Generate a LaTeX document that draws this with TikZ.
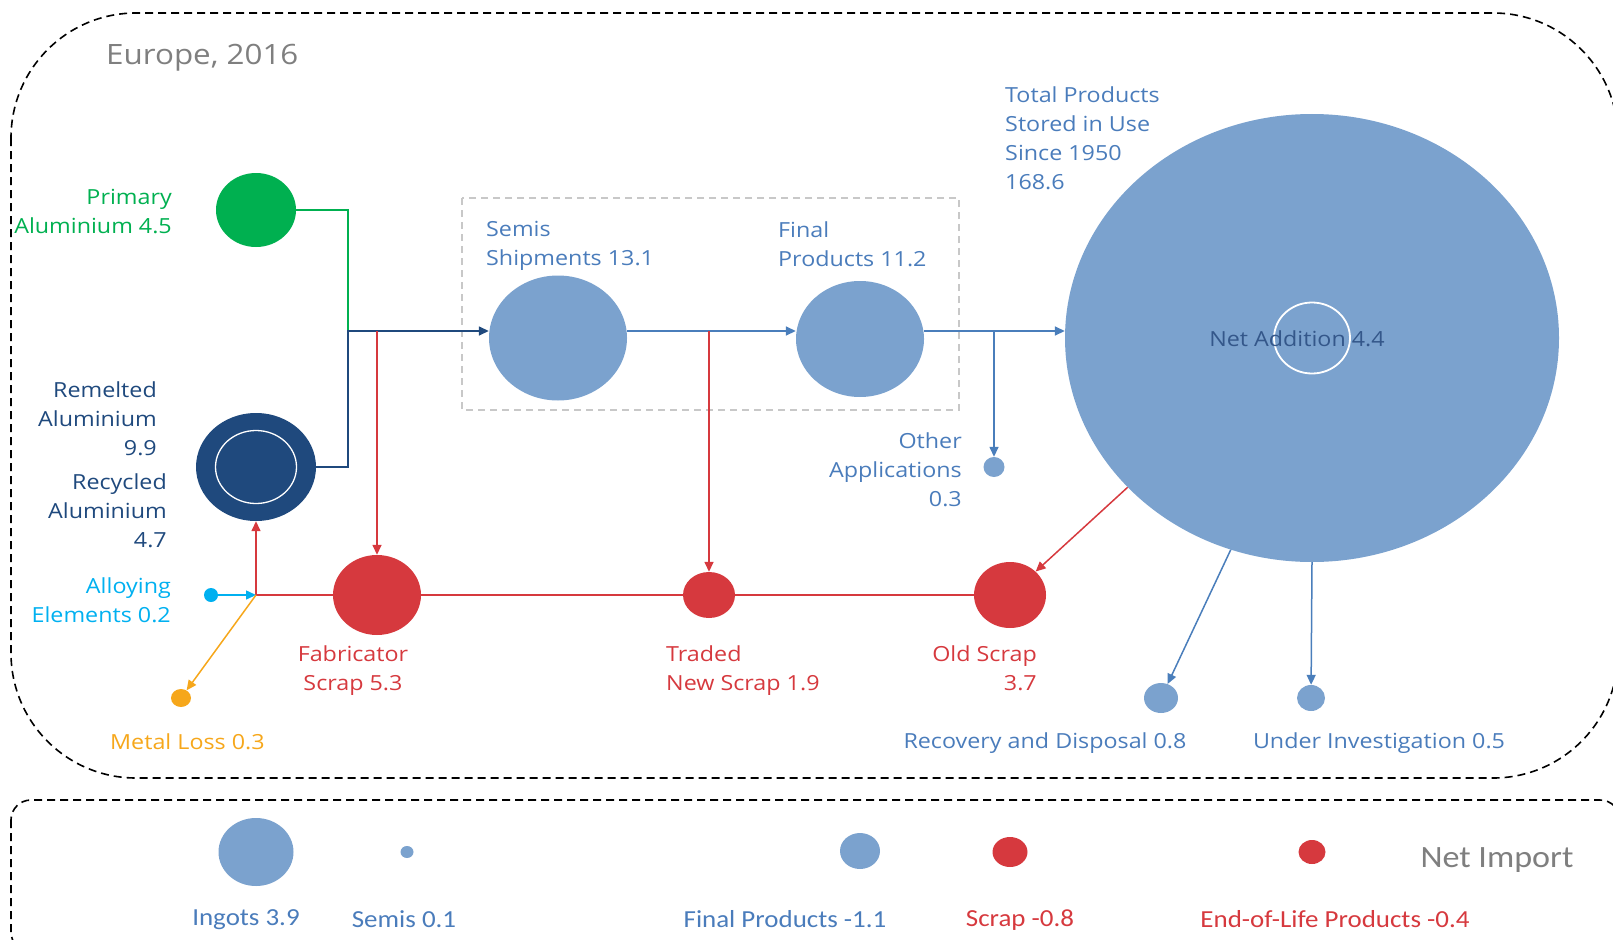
\documentclass[tikz,border=0pt]{standalone}
\usepackage{fontspec}
\setmainfont[FakeStretch=1.12]{Open Sans}
\newfontfamily\legfont[FakeStretch=1.1]{Carlito}
\usetikzlibrary{shapes.geometric}
\usetikzlibrary{arrows.meta}
\usetikzlibrary{positioning}
\definecolor{alublue}{HTML}{7BA2CE}
\definecolor{linkblue}{HTML}{4A7EBB}
\definecolor{txtblue}{HTML}{4A7CBB}
\definecolor{alunavy}{HTML}{1F497D}
\definecolor{netcol}{HTML}{34578A}
\definecolor{alugreen}{HTML}{00B050}
\definecolor{alured}{HTML}{D6393E}
\definecolor{alucyan}{HTML}{00B0F0}
\definecolor{aluorange}{HTML}{F6A71B}
\definecolor{framegray}{HTML}{C8C8C8}
\definecolor{txtgray}{HTML}{7F7F7F}
\newcommand{\labfont}{\fontsize{20.8}{29}\selectfont}
\newcommand{\legsize}{\legfont\fontsize{24.5}{28}\selectfont}

\begin{document}
\begin{tikzpicture}[x=1pt,y=-1pt,>={Triangle[length=10pt,width=9pt]},
		blob/.style={ellipse,inner sep=0pt,draw=none},
		dims/.style 2 args={minimum width=#1pt,minimum height=#2pt},
		lab/.style={font=\labfont,inner sep=0pt},
		leg/.style={font=\legsize,inner sep=0pt},
		link/.style={line width=1.5pt}]
		\useasboundingbox (0,0) rectangle (1613,939);
		\draw[line width=1.6pt,dash pattern=on 8pt off 5pt,rounded corners=125pt] (11,13) rectangle (1618,778);
		\draw[line width=1.6pt,dash pattern=on 8pt off 5pt,rounded corners=20pt] (11,800) rectangle (1620,952);
		\draw[framegray,line width=1.3pt,dash pattern=on 7pt off 5pt] (462,198) rectangle (959,410);

		\node[lab,txtgray,anchor=west,font=\fontsize{28}{34}\selectfont] (title) at (106,58) {Europe, 2016};

		\node[blob,fill=alugreen,dims={80}{74}]  (prim)   at (256,210) {};
		\node[blob,fill=alunavy,dims={120}{108}] (reme)   at (256,467) {};
		\node[blob,draw=white,line width=1.3pt,dims={81}{73}] (remein) at (reme) {};
		\node[blob,fill=alublue,dims={138}{125}] (semis)  at (558,338) {};
		\node[blob,fill=alublue,dims={128}{116}] (final)  at (860,339) {};
		\node[blob,fill=alublue,dims={494}{448}] (stock)  at (1312,338) {};
		\node[blob,draw=white,line width=1.8pt,dims={76}{71}] (netadd) at (stock) {};
		\node[blob,fill=alublue,dims={21}{20}]   (other)  at (994,467) {};
		\node[blob,fill=alublue,dims={34}{30}]   (recov)  at (1161,698) {};
		\node[blob,fill=alublue,dims={28}{26}]   (under)  at (1311,698) {};
		\node[blob,fill=alured,dims={88}{80}]    (fab)    at (377,595) {};
		\node[blob,fill=alured,dims={52}{46}]    (traded) at (709,595) {};
		\node[blob,fill=alured,dims={72}{66}]    (old)    at (1010,595) {};
		\node[blob,fill=alucyan,dims={14}{14}]   (alloy)  at (211,595) {};
		\node[blob,fill=aluorange,dims={20}{18}] (loss)   at (181,698) {};

		\coordinate (jin)    at (348,331);
		\coordinate (jfab)   at (377,331);
		\coordinate (jtrade) at (709,331);
		\coordinate (jout)   at (994,331);
		\coordinate (jscrap) at (256,595);

		\draw[link,alugreen] (prim.east) -| (jin);
		\draw[link,alunavy,->] (reme.east) -| (jin) -- (jin -| semis.west);
		\draw[link,linkblue,->] (semis.east |- jin) -- (final.west |- jin);
		\draw[link,linkblue,->] (final.east |- jout) -- (stock.west |- jout);
		\draw[link,linkblue,->] (jout) -- (other);
		\draw[link,alured,->] (jfab) -- (fab);
		\draw[link,alured,->] (jtrade) -- (traded);
		\draw[link,alured] (jscrap) -- (fab) -- (traded) -- (old);
		\draw[link,alured,->] (jscrap) -- (reme);
		\draw[link,alucyan,->] (alloy) -- (jscrap);
		\draw[link,aluorange,->] (jscrap) -- (loss);
		\draw[link,alured,->] (stock.219) -- (old);
		\draw[link,linkblue,->] (stock.249) -- (recov);
		\draw[link,linkblue,->] (stock.south) -- (under);

		\node[lab,alugreen,align=right,anchor=east] (primlab) at (172,212) {Primary\\Aluminium 4.5};
		\node[lab,alunavy,align=right,anchor=east] (remelab) at (157,419) {Remelted\\Aluminium\\9.9};
		\node[lab,alunavy,align=right,anchor=east] (recylab) at (167,511) {Recycled\\Aluminium\\4.7};
		\node[lab,alucyan,align=right,anchor=east] (alloylab) at (171,600) {Alloying\\Elements 0.2};
		\node[lab,aluorange,anchor=west] (losslab) at (110,742) {Metal Loss 0.3};
		\node[lab,alured,align=center] (fablab) at (353,671) {Fabricator\\Scrap 5.3};
		\node[lab,alured,align=left,anchor=west] (tradedlab) at (666,671) {Traded\\New Scrap 1.9};
		\node[lab,alured,align=right,anchor=east] (oldlab) at (1037,668) {Old Scrap\\3.7};
		\node[lab,txtblue,align=left,anchor=west] (semislab) at (486,246) {Semis\\Shipments 13.1};
		\node[lab,txtblue,align=left,anchor=west] (finallab) at (778,244) {Final\\Products 11.2};
		\node[lab,txtblue,align=left,anchor=west] (stocklab) at (1005,138) {Total Products\\Stored in Use\\Since 1950\\168.6};
		\node[lab,txtblue,align=right,anchor=east] (otherlab) at (962,470) {Other\\Applications\\0.3};
		\node[lab,netcol] (netlab) at (1297,339) {Net Addition 4.4};
		\node[lab,txtblue] (recovlab) at (1045,743) {Recovery and Disposal 0.8};
		\node[lab,txtblue] (underlab) at (1379,743) {Under Investigation 0.5};

		\node[blob,fill=alublue,dims={75}{68}]   (ingots) at (256,852) {};
		\node[blob,fill=alublue,dims={13}{12}]   (semisimp) at (407,852) {};
		\node[blob,fill=alublue,dims={40}{36}]   (finalimp) at (860,851) {};
		\node[blob,fill=alured,dims={35}{30}]    (scrapimp) at (1010,852) {};
		\node[blob,fill=alured,dims={27}{24}]    (eolimp)   at (1312,852) {};
		\node[leg,txtblue] (ingotslab) at (246,920) {Ingots 3.9};
		\node[leg,txtblue] (semisimplab) at (404,919) {Semis 0.1};
		\node[leg,txtblue] (finalimplab) at (785,919) {Final Products -1.1};
		\node[leg,alured] (scrapimplab) at (1020,920) {Scrap -0.8};
		\node[leg,alured] (eolimplab) at (1335,919) {End-of-Life Products -0.4};
		\node[leg,txtgray,font=\legfont\fontsize{31}{34}\selectfont] (importlab) at (1497,860) {Net Import};
\end{tikzpicture}
\end{document}
